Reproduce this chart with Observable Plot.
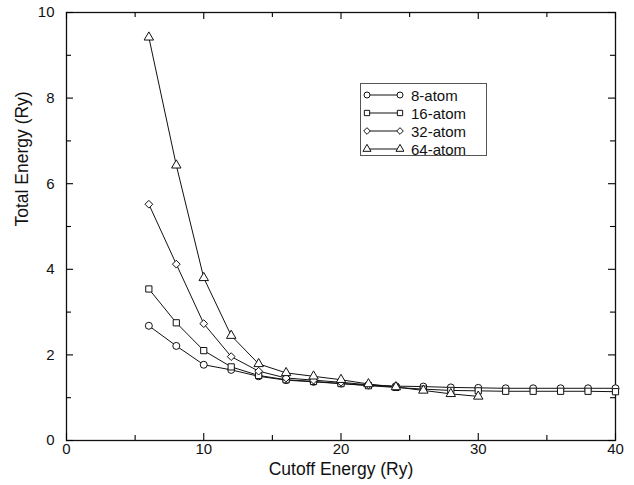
<!DOCTYPE html>
<html>
<head>
<meta charset="utf-8">
<script src="https://cdn.jsdelivr.net/npm/d3@7"></script>
<script src="https://cdn.jsdelivr.net/npm/@observablehq/plot@0.6"></script>
<style>
  body { margin: 0; background: #fff; }
  #wrap { position: relative; width: 634px; height: 485px; font-family: "Liberation Sans", Arial, sans-serif; }
  #legend { position: absolute; left: 360px; top: 83px; width: 127px; height: 73px; border: 1px solid #555; background: #fff; box-sizing: border-box; }
  .row { position: absolute; left: 1px; height: 18px; display: flex; align-items: center; font-size: 15px; color: #111; }
  .row svg { margin-right: 7px; }
</style>
</head>
<body>
<div id="wrap"><div id="chart"></div><div id="legend"></div></div>
<script>
const cutoffs = [6, 8, 10, 12, 14, 16, 18, 20, 22, 24, 26, 28, 30, 32, 34, 36, 38, 40];
const seriesNames = ["8-atom", "16-atom", "32-atom", "64-atom"];
const symbols = ["circle", "square", "diamond2", "triangle"];
const e8  = [2.68, 2.21, 1.77, 1.65, 1.50, 1.41, 1.37, 1.33, 1.29, 1.27, 1.26, 1.24, 1.23, 1.22, 1.22, 1.22, 1.22, 1.22];
const e16 = [3.54, 2.75, 2.10, 1.72, 1.52, 1.42, 1.38, 1.33, 1.28, 1.24, 1.20, 1.17, 1.16, 1.15, 1.15, 1.15, 1.15, 1.14];
const e32 = [5.52, 4.12, 2.73, 1.96, 1.62, 1.46, 1.41, 1.36, 1.30, 1.26];
const e64 = [9.42, 6.43, 3.80, 2.45, 1.79, 1.58, 1.50, 1.42, 1.32, 1.25, 1.17, 1.09, 1.03];
const xMajor = [0, 10, 20, 30, 40];
const xMinor = [5, 15, 25, 35];
const yMajor = [0, 2, 4, 6, 8, 10];
const yMinor = [1, 3, 5, 7, 9];
const xTitle = "Cutoff Energy (Ry)";
const yTitle = "Total Energy (Ry)";

const values = [e8, e16, e32, e64];
const data = [];
values.forEach((arr, i) => arr.forEach((v, j) => data.push({series: seriesNames[i], x: cutoffs[j], y: v})));

const W = 634, H = 485, mL = 66, mR = 19, mT = 12, mB = 45;
const fw = W - mL - mR, fh = H - mT - mB;
const MAJ = 7, MIN = 5;
const tickStyle = {stroke: "#000", strokeWidth: 1.1};
const font = "Liberation Sans, Arial, sans-serif";

const chart = Plot.plot({
  width: W,
  height: H,
  marginLeft: mL,
  marginRight: mR,
  marginTop: mT,
  marginBottom: mB,
  style: {fontFamily: font, fontSize: "15px", color: "#111", background: "#fff"},
  x: {domain: [0, 40]},
  y: {domain: [0, 10]},
  symbol: {domain: seriesNames, range: symbols},
  marks: [
    Plot.frame({stroke: "#111", strokeWidth: 1.3, fill: "none"}),
    Plot.axisX(xMajor, {anchor: "bottom", tickSize: 0, tickPadding: 3, fontSize: 15, label: null}),
    Plot.axisY(yMajor, {anchor: "left", tickSize: 0, tickPadding: 12, fontSize: 15, label: null}),
    Plot.text([xTitle], {frameAnchor: "bottom", dy: 34, fontSize: 17.5, text: d => d}),
    Plot.text([yTitle], {frameAnchor: "left", dx: -44, rotate: -90, fontSize: 17.5, text: d => d}),
    // inward ticks on all four sides
    Plot.ruleX(xMajor, {insetTop: fh - MAJ, ...tickStyle}),
    Plot.ruleX(xMinor, {insetTop: fh - MIN, ...tickStyle}),
    Plot.ruleX(xMajor, {insetBottom: fh - MAJ, ...tickStyle}),
    Plot.ruleX(xMinor, {insetBottom: fh - MIN, ...tickStyle}),
    Plot.ruleY(yMajor, {insetRight: fw - MAJ, ...tickStyle}),
    Plot.ruleY(yMinor, {insetRight: fw - MIN, ...tickStyle}),
    Plot.ruleY(yMajor, {insetLeft: fw - MAJ, ...tickStyle}),
    Plot.ruleY(yMinor, {insetLeft: fw - MIN, ...tickStyle}),
    Plot.line(data, {x: "x", y: "y", z: "series", stroke: "#111", strokeWidth: 1}),
    Plot.dot(data, {x: "x", y: "y", symbol: "series", r: 3.5, stroke: "#111", fill: "#fff", strokeWidth: 1})
  ]
});
document.getElementById("chart").appendChild(chart);
d3.select(chart).selectAll("text").attr("fill", "#111");

// legend
const legend = document.getElementById("legend");
const tops = [2, 20, 38, 56];
const symName = {circle: "Circle", square: "Square", diamond2: "Diamond2", triangle: "Triangle"};
seriesNames.forEach((name, i) => {
  const row = document.createElement("div");
  row.className = "row";
  row.style.top = tops[i] + "px";
  const sym = d3.symbol(d3["symbol" + symName[symbols[i]]], 28)();
  row.innerHTML = `<svg width="42" height="14"><line x1="5" x2="38" y1="7" y2="7" stroke="#111" stroke-width="1"/>` +
    `<path d="${sym}" transform="translate(5,7)" fill="#fff" stroke="#111"/>` +
    `<path d="${sym}" transform="translate(38,7)" fill="#fff" stroke="#111"/></svg><span>${name}</span>`;
  legend.appendChild(row);
});
</script>
</body>
</html>
